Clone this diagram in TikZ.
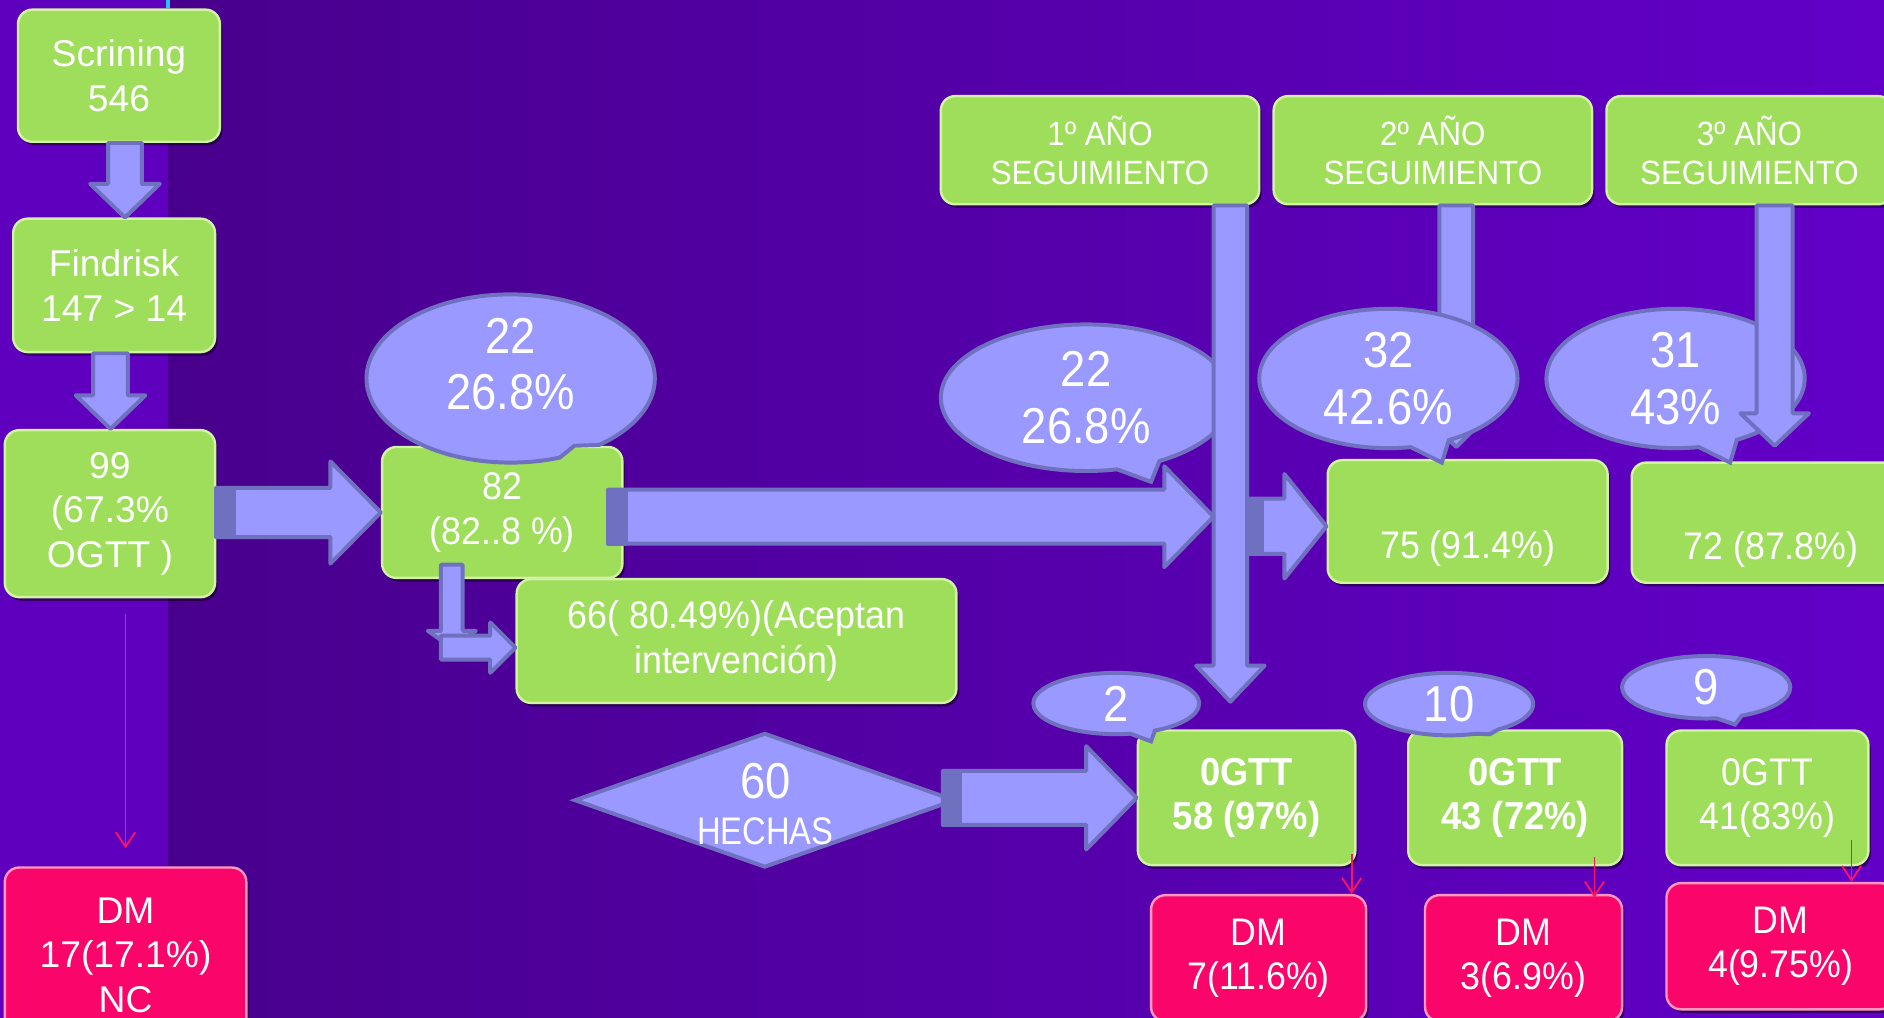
\documentclass[tikz,border=0pt]{standalone}
\usepackage{fontspec}
\setmainfont{Liberation Sans}
\newfontfamily\narf[FakeStretch=0.93]{Liberation Sans}
\newfontfamily\callf[FakeStretch=0.9]{Liberation Sans}
\newfontfamily\hechf[FakeStretch=0.85]{Liberation Sans}
\usetikzlibrary{calc,shapes.geometric,shapes.callouts,shadows,arrows.meta}
\definecolor{bgL}{RGB}{72,0,140}
\definecolor{bgR}{RGB}{98,0,200}
\definecolor{strip}{RGB}{94,0,190}
\definecolor{gfill}{RGB}{158,222,90}
\definecolor{gdraw}{RGB}{210,242,165}
\definecolor{rfill}{RGB}{250,5,105}
\definecolor{rdraw}{RGB}{255,150,190}
\definecolor{peri}{RGB}{153,153,255}
\definecolor{perid}{RGB}{112,112,192}
\definecolor{redl}{RGB}{255,20,100}
\definecolor{cyanl}{RGB}{40,190,255}
\tikzset{
  bx/.style={rounded corners=12pt, line width=2pt, text=white, align=center, inner sep=0pt,
     drop shadow={shadow xshift=2pt, shadow yshift=-3pt, opacity=0.45, fill=black}},
  gbox/.style={bx, fill=gfill, draw=gdraw},
  rbox/.style={bx, fill=rfill, draw=rdraw},
  fA/.style={font=\fontsize{31}{37}\selectfont},
  fN/.style={font=\narf\fontsize{32}{37}\selectfont},
  fY/.style={font=\narf\fontsize{28}{32}\selectfont},
  fO/.style={font=\narf\bfseries\fontsize{32.5}{36}\selectfont},
  fC/.style={font=\callf\fontsize{42}{47}\selectfont},
  blk/.style={fill=peri, draw=perid, line width=3.3pt, line join=round},
  bandst/.style={fill=perid, draw=perid, line width=3.3pt, line join=round},
  callo/.style={ellipse callout, fill=peri, draw=perid, line width=3.3pt, text=white,
     align=center, inner sep=0pt, callout pointer arc=18, fC},
  ctext/.style={text=white, align=center, inner sep=0pt, fC},
  redarr/.style={draw=redl, line width=1.5pt, -{Straight Barb[length=12pt,width=16pt]}},
}
% horizontal block arrow: start, tip, half shaft, half head, head length, band width
\newcommand\harr[6]{%
  \draw[blk] ($(#1 |- #2)+(0,-#3)$) -- ($(#2)+(-#5,-#3)$) -- ($(#2)+(-#5,-#4)$) -- (#2)
    -- ($(#2)+(-#5,#4)$) -- ($(#2)+(-#5,#3)$) -- ($(#1 |- #2)+(0,#3)$) -- cycle;
  \ifdim #6pt>0pt \draw[bandst] ($(#1 |- #2)+(0,-#3)$) rectangle ($(#1 |- #2)+(#6,#3)$);\fi}
% vertical (downward) block arrow: start, tip, half shaft, half head, head length
\newcommand\varr[5]{%
  \draw[blk] ($(#2 |- #1)+(-#3,0)$) -- ($(#2)+(-#3,-#5)$) -- ($(#2)+(-#4,-#5)$) -- (#2)
    -- ($(#2)+(#4,-#5)$) -- ($(#2)+(#3,-#5)$) -- ($(#2 |- #1)+(#3,0)$) -- cycle;}
\begin{document}
\begin{tikzpicture}[x=1pt,y=-1pt]
\useasboundingbox (0,0) rectangle (1568,847);
\shade[left color=bgL, right color=bgR] (140,0) rectangle (1568,847);
\fill[strip] (0,0) rectangle (140,847);
\draw[cyanl, line width=3pt] (140,0) -- (140,7);

% boxes
\node[gbox, fA, minimum width=168pt, minimum height=110pt] (scr) at (99,63) {Scrining\\546};
\node[gbox, fA, minimum width=168pt, minimum height=111pt] (fin) at (95,237.5) {Findrisk\\147 > 14};
\node[gbox, fA, minimum width=175pt, minimum height=139pt] (o99) at (91.5,427.5) {99\\(67.3\%\\OGTT )};
\node[rbox, fA, minimum width=201pt, minimum height=146pt] (dm0) at (104.5,795) {DM\\17(17.1\%)\\NC};
\node[gbox, fN, minimum width=200pt, minimum height=109pt] (b82) at (418,426.5) {82\\(82..8 \%)};
\node[gbox, fN, minimum width=366pt, minimum height=103pt] (b66) at (613,533.5) {66( 80.49\%)(Aceptan\\intervención)};
\node[gbox, fY, minimum width=265pt, minimum height=90pt] (y1) at (915.5,125) {1º AÑO\\SEGUIMIENTO};
\node[gbox, fY, minimum width=265pt, minimum height=90pt] (y2) at (1192.5,125) {2º AÑO\\SEGUIMIENTO};
\node[gbox, fY, minimum width=238pt, minimum height=90pt] (y3) at (1456,125) {3º AÑO\\SEGUIMIENTO};
\node[gbox, fN, minimum width=233pt, minimum height=102pt, text height=70pt, text depth=9pt] (b75) at (1221.5,434) {75 (91.4\%)};
\node[gbox, fN, minimum width=232pt, minimum height=100pt, text height=70pt, text depth=9pt] (b72) at (1474,435) {72 (87.8\%)};
\node[gbox, fO, minimum width=181pt, minimum height=112pt] (og1) at (1037.5,664) {0GTT\\58 (97\%)};
\node[gbox, fO, minimum width=178pt, minimum height=112pt] (og2) at (1261,664) {0GTT\\43 (72\%)};
\node[gbox, fN, minimum width=168pt, minimum height=112pt] (og3) at (1471,664) {0GTT\\41(83\%)};
\node[rbox, fN, minimum width=179pt, minimum height=105pt] (dm1) at (1047.5,797.5) {DM\\7(11.6\%)};
\node[rbox, fN, minimum width=164pt, minimum height=105pt] (dm2) at (1268,797.5) {DM\\3(6.9\%)};
\node[rbox, fN, minimum width=190pt, minimum height=105pt] (dm3) at (1482,787.5) {DM\\4(9.75\%)};

% left column arrows
\coordinate (a1t) at ($(fin.north)+(9,0)$);
\varr{scr.south}{a1t}{14}{29}{28}
\coordinate (a2t) at ($(o99.north)+(0.5,0)$);
\varr{fin.south}{a2t}{14.5}{29}{28}
\harr{o99.east}{b82.west}{20.5}{42.5}{42}{15}

% callout on 82
\node[callo, minimum width=240pt, minimum height=140pt,
  callout absolute pointer={($(b82.north)+(60,0)$)}] (c1) at (425,315) {};
\node[ctext] (c1t) at (425,303) {22\\26.8\%};

% long arrow
\coordinate (a4s) at ($(b82.east)+(-13,0)$);
\coordinate (v1) at ($(og1.north)+(-13.5,-23)$);
\coordinate (a4t) at ($(v1 |- b82.east)+(-14,3.5)$);
\harr{a4s}{a4t}{22.5}{42}{41}{15}

\node[callo, minimum width=242pt, minimum height=122pt,
  callout absolute pointer={(958,401)}] (c2) at (904,331) {22\\26.8\%};

% year 1 arrow
\varr{y1.south}{v1}{14}{28.5}{30}
\coordinate (a5s) at ($(v1)+(14,0)$);
\coordinate (a5t) at ($(b75.west)+(0,4)$);
\harr{a5s}{a5t}{23}{43.5}{35}{12}

% year 2 arrow and callout
\coordinate (a8t) at ($(b75.north)+(-9.5,-10)$);
\varr{y2.south}{a8t}{14}{28}{28}
\node[callo, minimum width=215pt, minimum height=116pt,
  callout absolute pointer={($(b75.north)+(-21.5,3)$)}] (c3) at (1155.5,315) {32\\42.6\%};

% year 3 callout and arrow
\node[callo, minimum width=215pt, minimum height=116pt,
  callout absolute pointer={($(b72.north)+(-34,1)$)}] (c4) at (1394.5,315) {31\\43\%};
\coordinate (a9t) at ($(b72.north)+(3,-13)$);
\varr{y3.south}{a9t}{15}{28.5}{27}

% L arrow 82 -> 66
\coordinate (l0) at ($(b82.south)+(-42,-12)$);
\coordinate (l1) at ($(b82.south)+(-42,57)$);
\varr{l0}{l1}{9}{20}{14}
\coordinate (l2) at ($(l1)+(-9,0)$);
\coordinate (l3) at (b66.west |- l1);
\harr{l2}{l3}{10}{21}{21}{0}

% diamond
\node[diamond, fill=peri, draw=perid, line width=3.3pt, minimum width=317pt,
  minimum height=112pt, inner sep=0pt] (dia) at (636.5,666) {};
\node[text=white, inner sep=0pt, font=\callf\fontsize{42}{42}\selectfont] (d60) at (637,650) {60};
\node[text=white, inner sep=0pt, font=\hechf\fontsize{32}{32}\selectfont] (dhe) at (637,692) {HECHAS};
\coordinate (a6s) at ($(dia.east)+(-12,0)$);
\harr{a6s}{og1.west}{22.5}{43}{42}{14}

% small callouts
\node[callo, minimum width=138pt, minimum height=51pt,
  callout absolute pointer={($(og1.north)+(-79.5,10)$)}] (c5) at (929,585.5) {2};
\node[callo, minimum width=140pt, minimum height=52pt,
  callout absolute pointer={($(og2.north)+(-21,4)$)}] (c6) at (1206,586) {10};
\node[callo, minimum width=140pt, minimum height=52pt,
  callout absolute pointer={($(og3.north)+(-27,-4)$)}] (c7) at (1420,572) {9};

% red arrows
\draw[redarr] ($(dm0.north |- o99.south)+(0,13)$) -- ($(dm0.north)+(0,-15)$);
\coordinate (r1) at ($(dm1.north east)+(-13,0)$);
\draw[redarr] ($(r1 |- og1.south)+(0,-10)$) -- (r1);
\coordinate (r2) at ($(dm2.north east)+(-24,3)$);
\draw[redarr] ($(r2 |- og2.south)+(0,-8)$) -- (r2);
\coordinate (r3) at ($(dm3.north east)+(-37,0)$);
\draw[redarr] ($(r3 |- og3.south)+(0,-22)$) -- (r3);
\end{tikzpicture}
\end{document}
